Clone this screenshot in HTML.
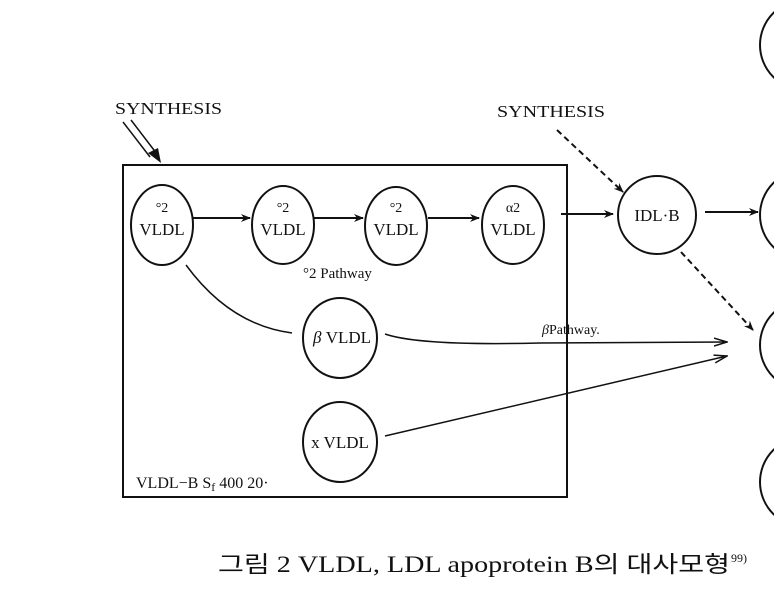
<!DOCTYPE html>
<html><head><meta charset="utf-8"><style>
body{margin:0;background:#fff;width:774px;height:586px;overflow:hidden}
svg text{font-family:"Liberation Serif",serif;fill:#111}
</style></head><body>
<svg width="774" height="586" viewBox="0 0 774 586" xmlns="http://www.w3.org/2000/svg">
<defs>
<marker id="a" markerWidth="10" markerHeight="8" refX="9" refY="4" orient="auto" markerUnits="userSpaceOnUse"><path d="M0,0 L10,4 L0,8 L3,4 Z" fill="#111"/></marker>
<marker id="o" markerWidth="14" markerHeight="10" refX="13" refY="5" orient="auto" markerUnits="userSpaceOnUse"><path d="M0,1 L13,5 L0,9" fill="none" stroke="#111" stroke-width="1.5"/></marker>
</defs>
<g fill="none" stroke="#111" stroke-width="2">
<rect x="123" y="165" width="444" height="332"/>
<ellipse cx="162" cy="225" rx="31" ry="40"/>
<ellipse cx="283" cy="225" rx="31" ry="39"/>
<ellipse cx="396" cy="226" rx="31" ry="39"/>
<ellipse cx="513" cy="225" rx="31" ry="39"/>
<circle cx="657" cy="215" r="39"/>
<ellipse cx="340" cy="338" rx="37" ry="40"/>
<ellipse cx="340" cy="442" rx="37" ry="40"/>
<circle cx="805" cy="45" r="45"/>
<circle cx="805" cy="215" r="45"/>
<circle cx="805" cy="345" r="45"/>
<circle cx="805" cy="482" r="45"/>
<line x1="193" y1="218" x2="250" y2="218" marker-end="url(#a)"/>
<line x1="314" y1="218" x2="363" y2="218" marker-end="url(#a)"/>
<line x1="428" y1="218" x2="479" y2="218" marker-end="url(#a)"/>
<line x1="561" y1="214" x2="613" y2="214" marker-end="url(#a)"/>
<line x1="705" y1="212" x2="758" y2="212" marker-end="url(#a)"/>
<path d="M186,265 Q230,325 292,333" stroke-width="1.5"/>
<path d="M385,334 Q420,346 540,343 L727,342" stroke-width="1.5" marker-end="url(#o)"/>
<line x1="385" y1="436" x2="727" y2="356" stroke-width="1.5" marker-end="url(#o)"/>
<line x1="557" y1="130" x2="623" y2="192" stroke-dasharray="6,4" marker-end="url(#a)"/>
<line x1="681" y1="252" x2="753" y2="330" stroke-dasharray="6,4" marker-end="url(#a)"/>
<line x1="123" y1="122" x2="150" y2="157" stroke-width="1.5"/>
<line x1="131" y1="120" x2="157" y2="154" stroke-width="1.5"/>
</g>
<path d="M148,153 L161,163 L158,148 Z" fill="#111"/>
<g font-size="17" text-anchor="middle">
<text x="162" y="212" font-size="14">°2</text><text x="162" y="235">VLDL</text>
<text x="283" y="212" font-size="14">°2</text><text x="283" y="235">VLDL</text>
<text x="396" y="212" font-size="14">°2</text><text x="396" y="235">VLDL</text>
<text x="513" y="212" font-size="14">α2</text><text x="513" y="235">VLDL</text>
<text x="657" y="221">IDL·B</text>
<text x="342" y="343"><tspan font-style="italic">β</tspan> VLDL</text>
<text x="340" y="448">x VLDL</text>
</g>
<text x="115" y="114" font-size="17" textLength="107" lengthAdjust="spacingAndGlyphs">SYNTHESIS</text>
<text x="497" y="117" font-size="17" textLength="108" lengthAdjust="spacingAndGlyphs">SYNTHESIS</text>
<text x="303" y="278" font-size="15">°2 Pathway</text>
<text x="542" y="334" font-size="14"><tspan font-style="italic">β</tspan>Pathway.</text>
<text x="136" y="488" font-size="16">VLDL−B S<tspan font-size="12" dy="3">f</tspan><tspan dy="-3"> 400 20·</tspan></text>
<text x="218" y="572" font-size="23" textLength="512" lengthAdjust="spacingAndGlyphs" font-family="'Liberation Serif','Noto Serif CJK SC',serif">그림 2  VLDL, LDL apoprotein B의 대사모형</text>
<text x="731" y="562" font-size="12">99)</text>
</svg>
</body></html>
